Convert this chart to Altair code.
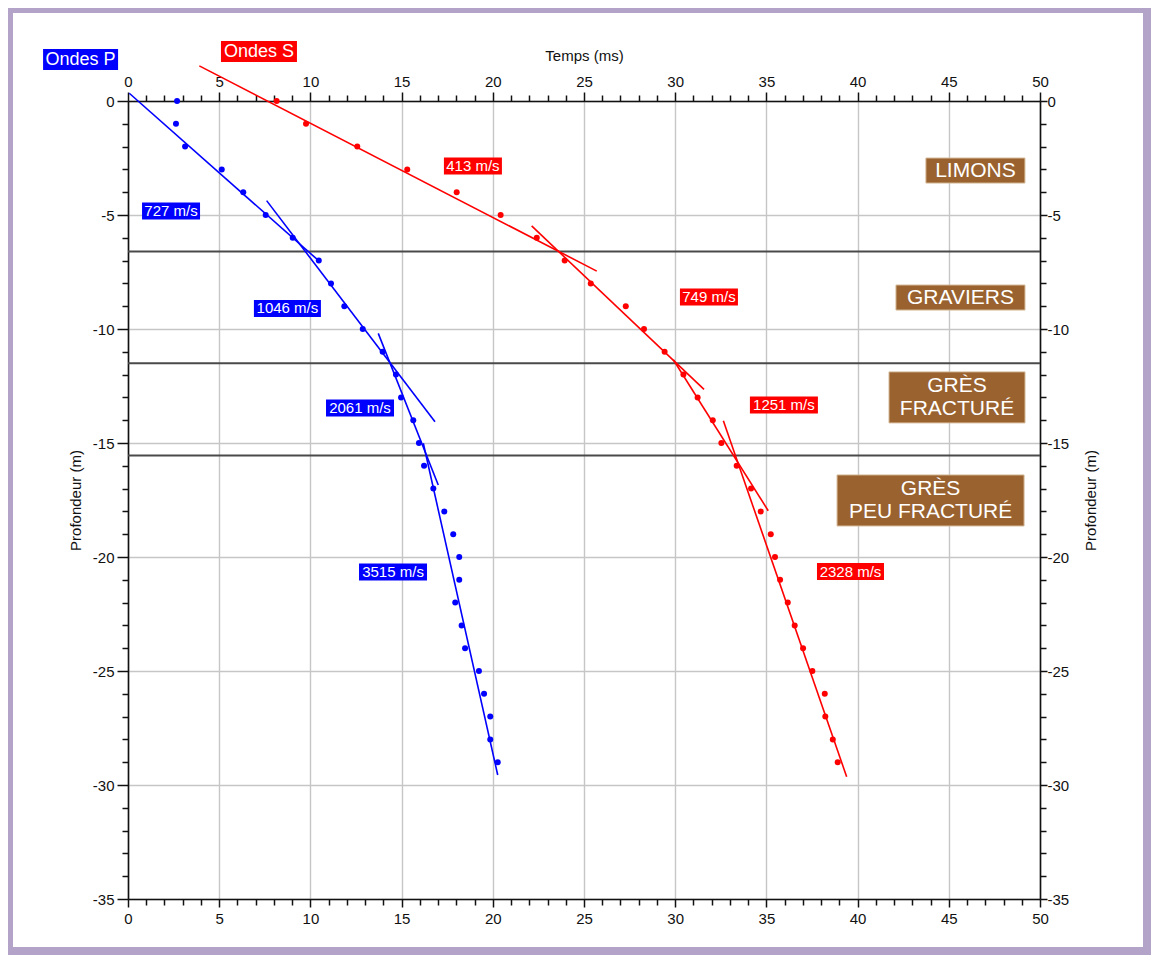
import altair as alt
import pandas as pd

# ---------------- data ----------------
depth = [0, -1, -2, -3, -4, -5, -6, -7, -8, -9, -10, -11, -12, -13, -14,
         -15, -16, -17, -18, -19, -20, -21, -22, -23, -24, -25, -26, -27, -28, -29]

p_time = [2.69, 2.63, 3.13, 5.14, 6.32, 7.55, 9.03, 10.46, 11.13, 11.86,
          12.87, 13.96, 14.69, 14.97, 15.64, 15.95, 16.23, 16.74, 17.34, 17.83,
          18.16, 18.16, 17.94, 18.29, 18.48, 19.24, 19.52, 19.86, 19.86, 20.27]

s_time = [8.15, 9.76, 12.57, 15.31, 18.02, 20.43, 22.41, 23.94, 25.37, 27.29,
          28.29, 29.42, 30.45, 31.23, 32.06, 32.53, 33.37, 34.16, 34.69, 35.24,
          35.47, 35.75, 36.17, 36.55, 37.01, 37.52, 38.20, 38.23, 38.64, 38.91]

# fitted segments (start / end)
p_seg_t0 = [0.07, 7.60, 13.72, 16.19]
p_seg_d0 = [0.34, -4.37, -10.19, -15.01]
p_seg_t1 = [10.53, 16.83, 17.01, 20.27]
p_seg_d1 = [-7.06, -14.07, -16.84, -29.56]

s_seg_t0 = [3.91, 22.13, 29.90, 32.64]
s_seg_d0 = [1.54, -5.48, -11.35, -14.02]
s_seg_t1 = [25.70, 31.58, 35.10, 39.40]
s_seg_d1 = [-7.46, -12.65, -17.97, -29.64]

# velocities
p_speed = ["727 m/s", "1046 m/s", "2061 m/s", "3515 m/s"]
p_speed_t = [2.36, 8.74, 12.72, 14.53]
p_speed_d = [-4.82, -9.10, -13.46, -20.66]

s_speed = ["413 m/s", "749 m/s", "1251 m/s", "2328 m/s"]
s_speed_t = [18.91, 31.85, 35.96, 39.61]
s_speed_d = [-2.85, -8.60, -13.33, -20.64]

# layer boundaries and names
boundaries = [-6.6, -11.5, -15.55]
layer_names = ["LIMONS", "GRAVIERS", "GRÈS\nFRACTURÉ", "GRÈS\nPEU FRACTURÉ"]
layer_t = [46.46, 45.64, 45.45, 44.0]
layer_d = [-3.05, -8.62, -13.00, -17.52]

legend_names = ["Ondes P", "Ondes S"]
legend_t = [-2.60, 7.18]
legend_d = [1.82, 2.17]

x_ticks = list(range(0, 51))
y_ticks = list(range(-35, 1))

# ---------------- styles ----------------
BLUE = "#0000ff"
RED = "#ff0000"
BROWN = "#99622f"
FONT = "Liberation Sans"
LINE_H = 23

xs = alt.Scale(domain=[0, 50], nice=False, zero=False)
ys = alt.Scale(domain=[-35, 0], nice=False, zero=False)
cs = alt.Scale(domain=["P", "S"], range=[BLUE, RED])

major = "datum.value % 5 == 0"
lab = "datum.value % 5 == 0 ? '' + datum.value : ''"


def ax(orient, title, grid, major_size, minor_size, pad, title_pad, values, angle=None):
    kw = dict(
        orient=orient, values=values, labelExpr=lab, title=title, grid=grid,
        gridColor="#c6c6c6", gridWidth=1.4,
        gridOpacity={"condition": {"test": major, "value": 1}, "value": 0},
        tickSize={"condition": {"test": major, "value": major_size}, "value": minor_size},
        tickColor="#111", tickWidth=1.5, domainColor="#111", domainWidth=1.6,
        labelFont=FONT, labelFontSize=15, labelColor="#111", labelPadding=pad,
        labelOverlap=False, labelFlush=False, labelBound=False,
        titleFont=FONT, titleFontSize=15, titleFontWeight="normal", titleColor="#111",
        titlePadding=title_pad,
    )
    if angle is not None:
        kw["titleAngle"] = angle
    return alt.Axis(**kw)


ax_top = ax("top", "Temps (ms)", True, 9, 6, 3, 11, x_ticks)
ax_bottom = ax("bottom", None, False, 8, 6, 4, 0, x_ticks)
ax_left = ax("left", "Profondeur (m)", True, 11, 6, 3, 9, y_ticks)
ax_right = ax("right", "Profondeur (m)", False, 7, 6, 0, 30, y_ticks, angle=270)

# ---------------- tables ----------------
pts = pd.DataFrame({
    "t": p_time + s_time,
    "d": depth + depth,
    "w": ["P"] * len(p_time) + ["S"] * len(s_time),
})

seg_rows = []
for i in range(4):
    seg_rows.append({"t": p_seg_t0[i], "d": p_seg_d0[i], "w": "P", "seg": f"P{i}"})
    seg_rows.append({"t": p_seg_t1[i], "d": p_seg_d1[i], "w": "P", "seg": f"P{i}"})
    seg_rows.append({"t": s_seg_t0[i], "d": s_seg_d0[i], "w": "S", "seg": f"S{i}"})
    seg_rows.append({"t": s_seg_t1[i], "d": s_seg_d1[i], "w": "S", "seg": f"S{i}"})
segs = pd.DataFrame(seg_rows)

bnd = pd.DataFrame({"d": boundaries})

# ---------------- layers ----------------
frame = alt.Chart(pd.DataFrame({"a": [0]})).mark_rect(
    fillOpacity=0, stroke="#b3a3c9", strokeWidth=8
).encode(x=alt.value(-119), x2=alt.value(1019), y=alt.value(-92), y2=alt.value(850))

bnd_layer = alt.Chart(bnd).mark_rule(color="#4a4a4a", strokeWidth=2).encode(
    y=alt.Y("d:Q", scale=ys, axis=ax_right)
)

# invisible layer carrying bottom axis
bottom_axis_layer = alt.Chart(pd.DataFrame({"t": [0, 50]})).mark_point(opacity=0).encode(
    x=alt.X("t:Q", scale=xs, axis=ax_bottom)
)

lines = alt.Chart(segs).mark_line(strokeWidth=1.6).encode(
    x=alt.X("t:Q", scale=xs, axis=None),
    y=alt.Y("d:Q", scale=ys, axis=None),
    color=alt.Color("w:N", scale=cs, legend=None),
    detail="seg:N",
)

points = alt.Chart(pts).mark_point(filled=True, size=36, opacity=1).encode(
    x=alt.X("t:Q", scale=xs, axis=ax_top),
    y=alt.Y("d:Q", scale=ys, axis=ax_left),
    color=alt.Color("w:N", scale=cs, legend=None),
)

# label boxes: (text, t, d, bg, box width, box height, font size, stroke)
box_specs = []
for i in range(2):
    box_specs.append((legend_names[i], legend_t[i], legend_d[i], [BLUE, RED][i],
                      [75, 76][i], 21, 18, None))
for i in range(4):
    box_specs.append((p_speed[i], p_speed_t[i], p_speed_d[i], BLUE,
                      [58, 67, 68, 68][i], 17, 15, None))
    box_specs.append((s_speed[i], s_speed_t[i], s_speed_d[i], RED,
                      [58, 58, 68, 67][i], 17, 15, None))
for i in range(4):
    box_specs.append((layer_names[i], layer_t[i], layer_d[i], BROWN,
                      [99, 129, 136, 187][i], [25, 25, 51, 51][i], 21, "#d4b896"))

label_layers = []
for text, t, d, bg, w, h, fs, stroke in box_specs:
    df = pd.DataFrame({"t": [t], "d": [d], "txt": [text]})
    rect_kw = dict(width=w, height=h, color=bg, opacity=1)
    if stroke:
        rect_kw.update(stroke=stroke, strokeWidth=1)
    n_lines = text.count("\n") + 1
    base = alt.Chart(df).encode(
        x=alt.X("t:Q", scale=xs, axis=None),
        y=alt.Y("d:Q", scale=ys, axis=None),
    )
    label_layers.append(base.mark_rect(**rect_kw))
    label_layers.append(base.mark_text(
        color="white", font=FONT, fontSize=fs, lineBreak="\n", lineHeight=LINE_H,
        align="center", baseline="middle", dy=-(n_lines - 1) * LINE_H / 2
    ).encode(text="txt:N"))

chart = alt.layer(
    frame, bnd_layer, bottom_axis_layer, lines, points, *label_layers
).resolve_axis(x="independent", y="independent").properties(
    width=912, height=798,
    autosize=alt.AutoSizeParams(type="none"),
    padding={"left": 120, "top": 93, "right": 111, "bottom": 56},
    background="white",
).configure_view(stroke=None)

chart.save("out.html", embed_options={"renderer": "svg", "actions": False})
